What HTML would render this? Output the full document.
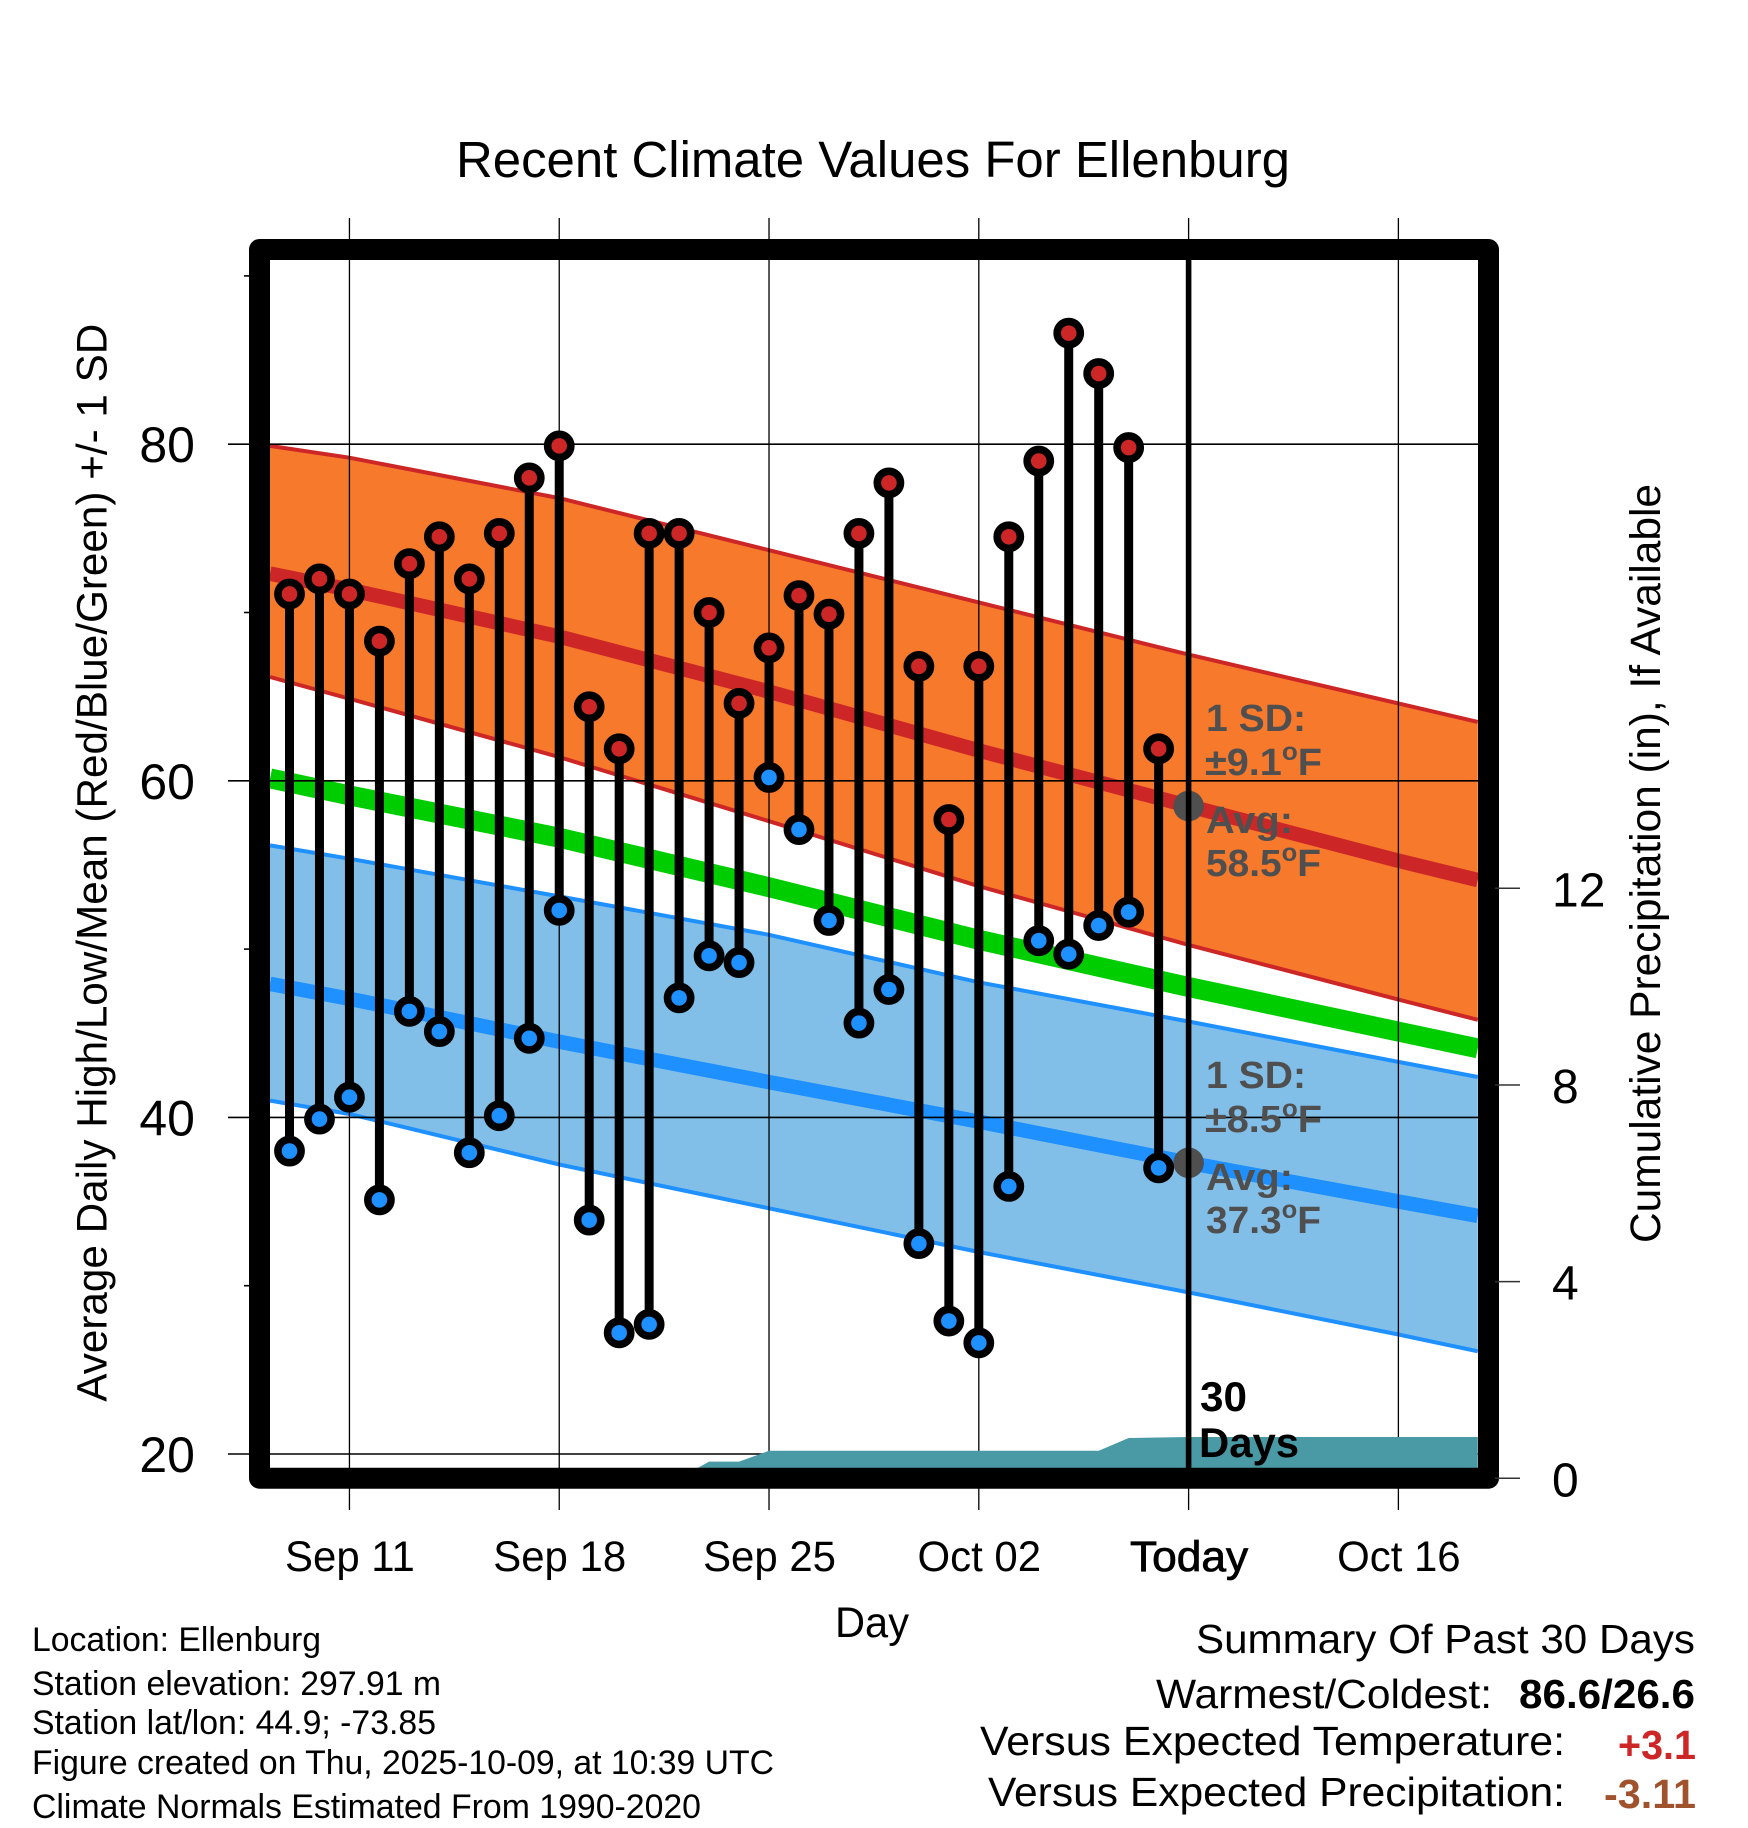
<!DOCTYPE html>
<html lang="en">
<head>
<meta charset="utf-8">
<title>Recent Climate Values For Ellenburg</title>
<style>
  html, body { margin: 0; padding: 0; background: #fff; }
  #chart { display: block; width: 1748px; height: 1828px; }
  text { font-family: "Liberation Sans", Arial, sans-serif; fill: #000; }
  .annotation { font-weight: 700; fill: #4f4f4f; font-size: 38px; }
  .foot { font-size: 34px; }
  .summary { font-size: 41px; }
</style>
</head>
<body>
<svg id="chart" xmlns="http://www.w3.org/2000/svg" width="1748" height="1828" viewBox="0 0 1748 1828">
  <rect x="0" y="0" width="1748" height="1828" fill="#ffffff"/>
  <defs>
    <clipPath id="plot-clip"><rect x="260" y="250" width="1228" height="1228"/></clipPath>
  </defs>
  <g id="bands" clip-path="url(#plot-clip)"></g>
  <g id="grid"></g>
  <g id="precip" clip-path="url(#plot-clip)"></g>
  <g id="markers"></g>
  <g id="today"></g>
  <g id="lollipops"></g>

  <rect x="259.5" y="249.5" width="1229" height="1228.7" fill="none" stroke="#000" stroke-width="21" stroke-linejoin="round"/>

  <g id="ticks"></g>
  <g id="tick-labels"></g>

  <text x="456" y="177" font-size="51" textLength="834" lengthAdjust="spacingAndGlyphs">Recent Climate Values For Ellenburg</text>
  <text x="835" y="1637" font-size="43" textLength="74" lengthAdjust="spacingAndGlyphs">Day</text>
  <text transform="translate(106.7 1401.7) rotate(-90)" x="0" y="0" font-size="43" textLength="1078" lengthAdjust="spacingAndGlyphs">Average Daily High/Low/Mean (Red/Blue/Green) +/- 1 SD</text>
  <text transform="translate(1660 1243) rotate(-90)" x="0" y="0" font-size="43" textLength="759" lengthAdjust="spacingAndGlyphs">Cumulative Precipitation (in), If Available</text>

  <text class="annotation" x="1206" y="731" textLength="100" lengthAdjust="spacingAndGlyphs">1 SD:</text>
  <text class="annotation" x="1205" y="775" textLength="117" lengthAdjust="spacingAndGlyphs">±9.1<tspan font-size="25" dy="-15">o</tspan><tspan dy="15">F</tspan></text>
  <text class="annotation" x="1206" y="833" textLength="87" lengthAdjust="spacingAndGlyphs">Avg:</text>
  <text class="annotation" x="1206" y="876" textLength="115" lengthAdjust="spacingAndGlyphs">58.5<tspan font-size="25" dy="-15">o</tspan><tspan dy="15">F</tspan></text>
  <text class="annotation" x="1206" y="1088" textLength="100" lengthAdjust="spacingAndGlyphs">1 SD:</text>
  <text class="annotation" x="1205" y="1132" textLength="117" lengthAdjust="spacingAndGlyphs">±8.5<tspan font-size="25" dy="-15">o</tspan><tspan dy="15">F</tspan></text>
  <text class="annotation" x="1206" y="1190" textLength="87" lengthAdjust="spacingAndGlyphs">Avg:</text>
  <text class="annotation" x="1206" y="1233" textLength="115" lengthAdjust="spacingAndGlyphs">37.3<tspan font-size="25" dy="-15">o</tspan><tspan dy="15">F</tspan></text>

  <text x="1200" y="1411" font-size="42" font-weight="700" textLength="47" lengthAdjust="spacingAndGlyphs">30</text>
  <text x="1199" y="1457" font-size="42" font-weight="700" textLength="100" lengthAdjust="spacingAndGlyphs">Days</text>

  <text class="foot" x="32" y="1651" textLength="289" lengthAdjust="spacingAndGlyphs">Location: Ellenburg</text>
  <text class="foot" x="32" y="1695" textLength="409" lengthAdjust="spacingAndGlyphs">Station elevation: 297.91 m</text>
  <text class="foot" x="32" y="1734" textLength="404" lengthAdjust="spacingAndGlyphs">Station lat/lon: 44.9; -73.85</text>
  <text class="foot" x="32" y="1774" textLength="742" lengthAdjust="spacingAndGlyphs">Figure created on Thu, 2025-10-09, at 10:39 UTC</text>
  <text class="foot" x="32" y="1818" textLength="669" lengthAdjust="spacingAndGlyphs">Climate Normals Estimated From 1990-2020</text>

  <text class="summary" x="1196" y="1653" textLength="499" lengthAdjust="spacingAndGlyphs">Summary Of Past 30 Days</text>
  <text class="summary" x="1156" y="1708" textLength="336" lengthAdjust="spacingAndGlyphs">Warmest/Coldest:</text>
  <text class="summary" x="1519" y="1708" font-weight="700" textLength="176" lengthAdjust="spacingAndGlyphs">86.6/26.6</text>
  <text class="summary" x="980" y="1755" textLength="585" lengthAdjust="spacingAndGlyphs">Versus Expected Temperature:</text>
  <text class="summary" x="1618" y="1759" font-weight="700" style="fill:#cd2626" textLength="78" lengthAdjust="spacingAndGlyphs">+3.1</text>
  <text class="summary" x="988" y="1806" textLength="577" lengthAdjust="spacingAndGlyphs">Versus Expected Precipitation:</text>
  <text class="summary" x="1604" y="1808" font-weight="700" style="fill:#a0522d" textLength="92" lengthAdjust="spacingAndGlyphs">-3.11</text>
</svg>

<script>
// ---- Data ----
const highTemps = [71.1, 72.0, 71.1, 68.3, 72.9, 74.5, 72.0, 74.7, 78.0, 79.9, 64.4, 61.9, 74.7, 74.7, 70.0, 64.6, 67.9, 71.0, 69.9, 74.7, 77.7, 66.8, 57.7, 66.8, 74.5, 79.0, 86.6, 84.2, 79.8, 61.9];
const lowTemps = [38.0, 39.9, 41.2, 35.1, 46.3, 45.1, 37.9, 40.1, 44.7, 52.3, 33.9, 27.2, 27.7, 47.1, 49.6, 49.2, 60.2, 57.1, 51.7, 45.6, 47.6, 32.5, 27.9, 26.6, 35.9, 50.5, 49.7, 51.4, 52.2, 37.0];
const normalDays = [-0.65, 2, 9, 16, 23, 30, 37, 39.65];
const highUpper = [79.9, 79.2, 76.8, 73.7, 70.6, 67.5, 64.6, 63.5];
const highMean = [72.31, 71.36, 68.57, 65.3, 61.8, 58.5, 55.25, 54.1];
const highLower = [66.17, 64.88, 61.41, 57.6, 53.74, 50.25, 47.0, 45.8];
const meanTemp = [60.14, 59.13, 56.62, 53.68, 50.55, 47.75, 45.1, 44.1];
const lowUpper = [56.16, 55.37, 53.13, 50.85, 48.03, 45.7, 43.3, 42.4];
const lowMean = [47.93, 47.05, 44.5, 42.1, 39.75, 37.3, 35.0, 34.15];
const lowLower = [41.0, 40.2, 37.2, 34.6, 32.0, 29.6, 27.1, 26.1];
const precipDays = [13, 14, 15, 16, 27, 28, 29, 30, 39.65];
const precipValues = [0, 0.34, 0.34, 0.56, 0.56, 0.82, 0.83, 0.84, 0.84];
const todayHighMean = 58.5;
const todayLowMean = 37.3;
const todayDay = 30;
const xTickDays = [2, 9, 16, 23, 30, 37];
const xTickLabels = ['Sep 11', 'Sep 18', 'Sep 25', 'Oct 02', 'Today', 'Oct 16'];
const yMajorTicks = [80, 60, 40, 20];
const yMinorTicks = [90, 70, 50, 30];
const precipTicks = [0, 4, 8, 12];

// ---- Axis functions ----
function xDay(d) { return 289.5 + 29.97 * d; }
function yTemp(t) { return 444.2 + (80 - t) * 16.83; }
function yPrecip(p) { return 1478.3 - p * 49.17; }

const NS = 'http://www.w3.org/2000/svg';
function make(tag, parent, attrs) {
  const el = document.createElementNS(NS, tag);
  for (const k in attrs) el.setAttribute(k, attrs[k]);
  parent.appendChild(el);
  return el;
}
function pathFrom(ys) {
  return normalDays.map(function (d, i) { return xDay(d).toFixed(1) + ',' + yTemp(ys[i]).toFixed(1); });
}

// ---- Normal bands ----
const bands = document.getElementById('bands');
const bandSpec = [
  ['high-sd-band', highUpper, highLower, '#f7792c', '#cd2626'],
  ['low-sd-band', lowUpper, lowLower, '#82bfe8', '#1e90ff']
];
bandSpec.forEach(function (b) {
  const up = pathFrom(b[1]);
  const lo = pathFrom(b[2]);
  const fill = make('polygon', bands, { points: up.concat(lo.slice().reverse()).join(' '), fill: b[3] });
  
  
  const topEdge = make('polyline', bands, { points: up.join(' '), fill: 'none', stroke: b[4], 'stroke-width': 4 });
  
  
  const botEdge = make('polyline', bands, { points: lo.join(' '), fill: 'none', stroke: b[4], 'stroke-width': 4 });
  
  
});
const lineSpec = [
  ['average-high-line', highMean, '#cd2626', 14.5],
  ['average-mean-line', meanTemp, '#00cd00', 20],
  ['average-low-line', lowMean, '#1e90ff', 14.5]
];
lineSpec.forEach(function (l) {
  const line = make('polyline', bands, { points: pathFrom(l[1]).join(' '), fill: 'none', stroke: l[2], 'stroke-width': l[3], 'stroke-linejoin': 'round' });
  
  
});

// ---- Grid ----
const grid = document.getElementById('grid');
xTickDays.forEach(function (d) {
  const g = make('line', grid, { x1: xDay(d), x2: xDay(d), y1: 218, y2: 1510, stroke: '#000', 'stroke-width': 1.3 });
  
  
});
yMajorTicks.forEach(function (t) {
  const g = make('line', grid, { x1: 228, x2: 1478, y1: yTemp(t), y2: yTemp(t), stroke: '#000', 'stroke-width': 1.6 });
  
  
});

// ---- Precipitation ----
const precip = document.getElementById('precip');
const precipPts = precipDays.map(function (d, i) { return xDay(d).toFixed(1) + ',' + yPrecip(precipValues[i]).toFixed(1); });
const precipLast = precipDays[precipDays.length - 1];
const precipArea = make('polygon', precip, {
  points: precipPts.join(' ') + ' ' + xDay(precipLast).toFixed(1) + ',' + yPrecip(0).toFixed(1),
  fill: '#4a9aa5'
});



// ---- Today markers and line ----
const markers = document.getElementById('markers');
const hiDot = make('circle', markers, { cx: xDay(todayDay), cy: yTemp(todayHighMean), r: 15.3, fill: '#4f4f4f' });


const loDot = make('circle', markers, { cx: xDay(todayDay), cy: yTemp(todayLowMean), r: 15.3, fill: '#4f4f4f' });


const todayLine = make('line', document.getElementById('today'), { x1: xDay(todayDay), x2: xDay(todayDay), y1: 255, y2: 1475, stroke: '#000', 'stroke-width': 5.6 });



// ---- Daily high/low lollipops ----
const lolli = document.getElementById('lollipops');
highTemps.forEach(function (hi, i) {
  const lo = lowTemps[i];
  const x = xDay(i);
  const stem = make('line', lolli, { x1: x, x2: x, y1: yTemp(hi), y2: yTemp(lo), stroke: '#000', 'stroke-width': 9 });
  
  
  const hiPt = make('circle', lolli, { cx: x, cy: yTemp(hi), r: 11.6, fill: '#cd2626', stroke: '#000', 'stroke-width': 7.6 });
  
  
  const loPt = make('circle', lolli, { cx: x, cy: yTemp(lo), r: 11.6, fill: '#1e90ff', stroke: '#000', 'stroke-width': 7.6 });
  
  
});

// ---- Ticks ----
const ticks = document.getElementById('ticks');
yMinorTicks.forEach(function (t) {
  const m = make('line', ticks, { x1: 244, x2: 252, y1: yTemp(t), y2: yTemp(t), stroke: '#000', 'stroke-width': 1.6 });
  
  
});
precipTicks.forEach(function (p) {
  const m = make('line', ticks, { x1: 1495, x2: 1520, y1: yPrecip(p), y2: yPrecip(p), stroke: '#333', 'stroke-width': 1.5 });
  
  
});

// ---- Tick labels ----
const labels = document.getElementById('tick-labels');
function squeeze(el, factor) {
  el.setAttribute('textLength', (el.getComputedTextLength() * factor).toFixed(1));
  el.setAttribute('lengthAdjust', 'spacingAndGlyphs');
}
xTickDays.forEach(function (d, i) {
  const isToday = xTickLabels[i] === 'Today';
  const t = make('text', labels, { x: xDay(d) + 0.5, y: 1571, 'text-anchor': 'middle', 'font-size': 43 });
  t.textContent = xTickLabels[i];
  
  
  if (isToday) {
    t.setAttribute('stroke', '#000');
    t.setAttribute('stroke-width', '0.8');
  }
  squeeze(t, isToday ? 1.03 : 0.975);
});
yMajorTicks.forEach(function (v) {
  const t = make('text', labels, { x: 195, y: yTemp(v) + 18, 'text-anchor': 'end', 'font-size': 50 });
  t.textContent = String(v);
  
  
  squeeze(t, 1.0);
});
precipTicks.forEach(function (p) {
  const t = make('text', labels, { x: 1552, y: yPrecip(p) + 18, 'font-size': 48 });
  t.textContent = String(p);
  
  
  squeeze(t, 1.0);
});
</script>
</body>
</html>
